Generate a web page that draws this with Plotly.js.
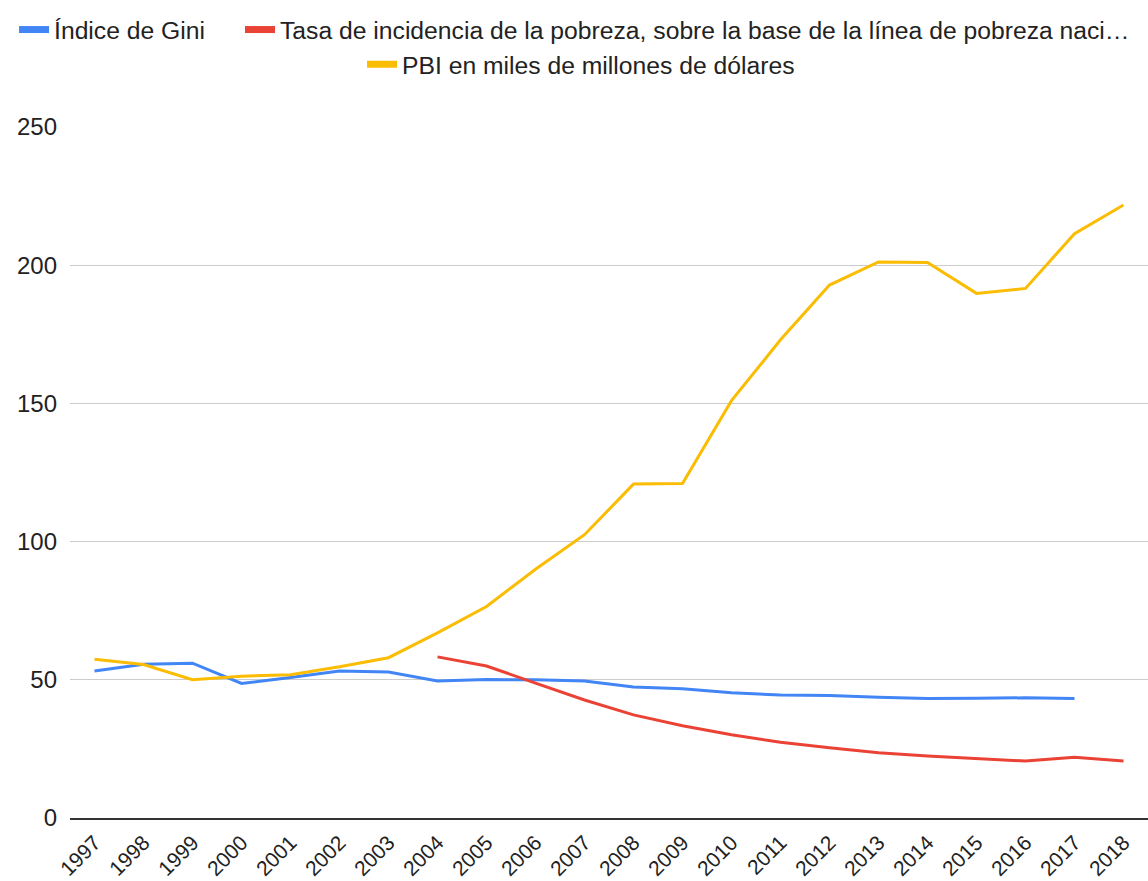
<!DOCTYPE html>
<html>
<head>
<meta charset="utf-8">
<script src="https://cdn.plot.ly/plotly-3.0.1.min.js"></script>
<style>
  html, body { margin: 0; padding: 0; background: #fff; }
  #chart { width: 1148px; height: 881px; }
</style>
</head>
<body>
<div id="chart"></div>
<script>
const years = ["1997","1998","1999","2000","2001","2002","2003","2004","2005","2006","2007","2008","2009","2010","2011","2012","2013","2014","2015","2016","2017","2018"];
const gini = [53.2, 55.6, 56.0, 48.7, 50.8, 53.2, 52.8, 49.6, 50.1, 50.0, 49.6, 47.4, 46.8, 45.3, 44.5, 44.3, 43.7, 43.2, 43.3, 43.5, 43.2, null];
const pobreza = [null, null, null, null, null, null, null, 58.3, 55.0, 48.8, 42.7, 37.3, 33.4, 30.1, 27.4, 25.4, 23.6, 22.4, 21.4, 20.6, 22.0, 20.6];
const pbi = [57.4, 55.5, 50.0, 51.3, 51.8, 54.7, 58.0, 67.0, 76.5, 90.0, 102.5, 120.8, 121.0, 151.0, 173.0, 192.8, 201.2, 201.0, 189.8, 191.6, 211.4, 221.8];

const names = ["Índice de Gini", "Tasa de incidencia de la pobreza, sobre la base de la línea de pobreza naci…", "PBI en miles de millones de dólares"];
const colors = ["#4285F4", "#EA4335", "#FBBC04"];
const series = [gini, pobreza, pbi];
const legendIds = ["legend", "legend2", "legend3"];

const traces = [];
series.forEach((s, i) => {
  traces.push({
    type: "scatter", mode: "lines", x: years, y: s, name: names[i],
    line: { color: colors[i], width: 3 }, connectgaps: false,
    showlegend: false, hoverinfo: "x+y"
  });
});
series.forEach((s, i) => {
  traces.push({
    type: "scatter", mode: "lines", x: [null], y: [null], name: names[i],
    line: { color: colors[i], width: 7 },
    showlegend: true, legend: legendIds[i], hoverinfo: "skip"
  });
});

const legendFont = { family: "Liberation Sans, Arial, sans-serif", size: 24.7, color: "#222" };
function mkLegend(x, y) {
  return { orientation: "h", x: x, y: y, xanchor: "left", yanchor: "middle",
           xref: "paper", yref: "paper", font: legendFont, bgcolor: "rgba(0,0,0,0)",
           borderwidth: 0, itemwidth: 30 };
}

const layout = {
  width: 1148, height: 881,
  margin: { l: 70, r: 0, t: 127, b: 63 },
  paper_bgcolor: "#ffffff", plot_bgcolor: "#ffffff",
  font: { family: "Liberation Sans, Arial, sans-serif", size: 24, color: "#222" },
  showlegend: true,
  legend: mkLegend(-0.0519, 1.1404),
  legend2: mkLegend(0.1577, 1.1404),
  legend3: mkLegend(0.2709, 1.0900),
  xaxis: {
    type: "category", range: [-0.5, 21.5], tickangle: -45,
    showgrid: false, showline: true, linecolor: "#333", linewidth: 2,
    ticks: "", ticklabelstandoff: 2, tickfont: { size: 21, color: "#222" },
    automargin: false, fixedrange: true
  },
  yaxis: {
    range: [0, 250], tickvals: [0, 50, 100, 150, 200, 250],
    showgrid: true, gridcolor: "#cccccc", gridwidth: 1, zeroline: false,
    ticks: "", ticklabelstandoff: 12, tickfont: { size: 24, color: "#222" },
    automargin: false, fixedrange: true
  }
};

Plotly.newPlot("chart", traces, layout, { displayModeBar: false, staticPlot: true });
</script>
</body>
</html>
